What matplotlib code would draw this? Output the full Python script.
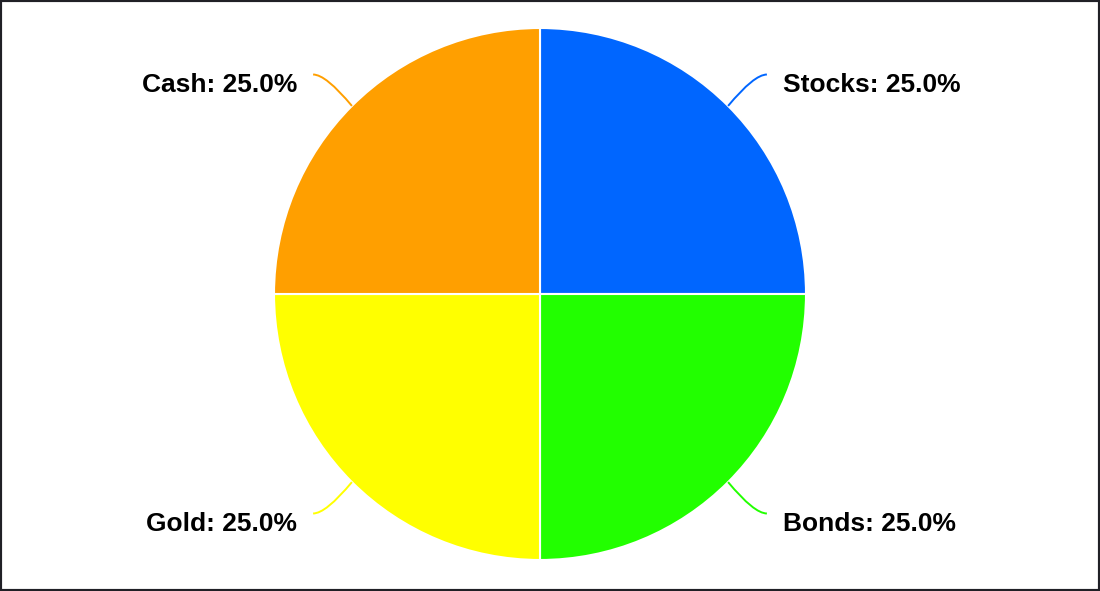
import matplotlib
matplotlib.use('Agg')
import matplotlib.pyplot as plt
import numpy as np
from matplotlib.path import Path
from matplotlib.patches import PathPatch, Rectangle

# ── Data ───────────────────────────────────────────────────────────────────
labels = ['Stocks', 'Bonds', 'Gold', 'Cash']
values = [25, 25, 25, 25]
colors = ['#0066FF', '#22FF00', '#FFFF00', '#FF9F00']

plt.rcParams['font.family'] = ['Liberation Sans', 'DejaVu Sans']

fig = plt.figure(figsize=(11, 5.91), dpi=100)
# pie centre ~ (540, 294) px, radius ~266 px
r_px = 266
ax = fig.add_axes([(540 - r_px) / 1100, (591 - 294 - r_px) / 591,
                   2 * r_px / 1100, 2 * r_px / 591])
wedges, _ = ax.pie(values, colors=colors, startangle=90, counterclock=False,
                   radius=1, wedgeprops=dict(edgecolor='white', linewidth=1.5))
ax.set_xlim(-1, 1)
ax.set_ylim(-1, 1)
ax.set_aspect('equal')
ax.axis('off')

total = sum(values)
for w, lab, val, col in zip(wedges, labels, values, colors):
    ang = np.deg2rad((w.theta1 + w.theta2) / 2)
    cx, cy = np.cos(ang), np.sin(ang)
    sx = np.sign(cx)
    start = (cx, cy)
    end = (0.853 * sx, 1.167 * cy)
    ctrl = (0.805 * sx, 1.167 * cy)
    path = Path([start, ctrl, end], [Path.MOVETO, Path.CURVE3, Path.CURVE3])
    ax.add_patch(PathPatch(path, facecolor='none', edgecolor=col, lw=1.4,
                           clip_on=False))
    ax.text(0.914 * sx, 1.167 * cy - 0.04, f'{lab}: {val / total * 100:.1f}%',
            ha='left' if sx > 0 else 'right', va='center',
            fontsize=19, fontweight='bold', color='black', clip_on=False)

# dark frame around the figure
fig.patches.append(Rectangle((0, 0), 1, 1, transform=fig.transFigure,
                             fill=False, edgecolor='#202026', linewidth=3))

fig.savefig('out.png', dpi=100)
